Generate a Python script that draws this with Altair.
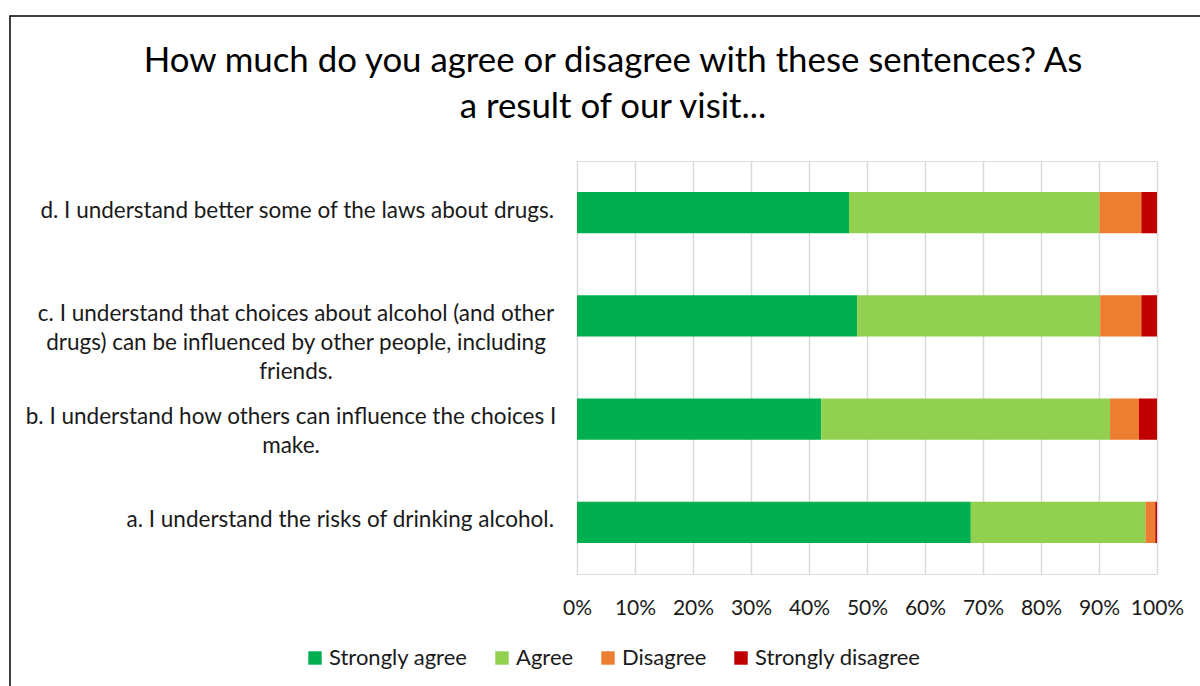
import altair as alt
import pandas as pd

questions = [
    "d. I understand better some of the laws about drugs.",
    "c. I understand that choices about alcohol (and other drugs) can be influenced by other people, including friends.",
    "b. I understand how others can influence the choices I make.",
    "a. I understand the risks of drinking alcohol.",
]
label_lines = [
    ["d. I understand better some of the laws about drugs."],
    ["c. I understand that choices about alcohol (and other",
     "drugs) can be influenced by other people, including",
     "friends."],
    ["b. I understand how others can influence the choices I", "make."],
    ["a. I understand the risks of drinking alcohol."],
]
responses = ["Strongly agree", "Agree", "Disagree", "Strongly disagree"]
strongly_agree = [46.9, 48.3, 42.1, 67.9]
agree = [43.2, 41.9, 49.8, 30.1]
disagree = [7.2, 7.1, 5.0, 1.7]
strongly_disagree = [2.7, 2.7, 3.1, 0.3]
colors = ["#00B050", "#92D050", "#ED7D31", "#C00000"]
tick_values = [0, 0.1, 0.2, 0.3, 0.4, 0.5, 0.6, 0.7, 0.8, 0.9, 1.0]
title_lines = ["How much do you agree or disagree with these sentences? As",
               "a result of our visit..."]

FONT = "Lato"
TXT = "#1a1a1a"
series = [strongly_agree, agree, disagree, strongly_disagree]
rows = []
for r_i, (resp, vals) in enumerate(zip(responses, series)):
    for q, v in zip(questions, vals):
        rows.append({"question": q, "response": resp, "value": v, "order": r_i})
df = pd.DataFrame(rows)
labels_df = pd.DataFrame({"question": questions, "lines": label_lines})
title_df = pd.DataFrame({"t": [title_lines]})

y_enc = alt.Y("question:N", sort=questions, axis=None,
              scale=alt.Scale(paddingInner=0.6, paddingOuter=0.3))

bars = alt.Chart(df).mark_bar().encode(
    x=alt.X("value:Q", stack="normalize", title=None,
            axis=alt.Axis(format="%", values=tick_values, grid=True,
                          gridColor="#D9D9D9", gridWidth=1.5, domain=False,
                          ticks=False, labelFontSize=21, labelFont=FONT,
                          labelColor=TXT, labelPadding=23, labelOverlap=False,
                          labelFlush=False, labelBound=False),
            scale=alt.Scale(domain=[0, 1], nice=False)),
    y=y_enc,
    color=alt.Color("response:N", sort=responses,
                    scale=alt.Scale(domain=responses, range=colors),
                    legend=alt.Legend(title=None, orient="none", direction="horizontal",
                                      legendX=-273, legendY=486,
                                      symbolType="square", symbolSize=180,
                                      symbolStrokeWidth=0,
                                      labelFontSize=22, labelFont=FONT,
                                      labelColor=TXT, columnPadding=23,
                                      labelOffset=3, labelLimit=400)),
    order=alt.Order("order:Q", sort="ascending"),
)


def label_layer(which, align, xpos):
    return alt.Chart(labels_df).transform_filter(
        alt.FieldOneOfPredicate(field="question", oneOf=[questions[i] for i in which])
    ).mark_text(align=align, baseline="middle", font=FONT, fontSize=22.5,
                color=TXT, lineHeight=29, dy=-2).encode(
        y=y_enc, x=alt.value(xpos), text="lines")


right_labels = label_layer([0, 3], "right", -23)
c_label = label_layer([1], "center", -281)
b_label = label_layer([2], "center", -286)

title = alt.Chart(title_df).mark_text(
    align="center", baseline="alphabetic", font=FONT, fontSize=34.8,
    color="#000000", lineHeight=46).encode(
    x=alt.value(36), y=alt.value(-89), text="t")

frame = alt.Chart(alt.Data(values=[{}])).mark_rect(
    fill="transparent", stroke="#000000", strokeWidth=1.5).encode(
    x=alt.value(-567), x2=alt.value(640), y=alt.value(-145), y2=alt.value(560))

chart = alt.layer(frame, bars, right_labels, c_label, b_label, title).properties(
    width=580, height=413,
    autosize=alt.AutoSizeParams(type="none"),
    padding={"left": 577, "top": 161, "right": 43, "bottom": 112},
).configure_view(stroke=None).configure(background="white")

chart.save("out.html", embed_options={"renderer": "svg", "actions": False})
